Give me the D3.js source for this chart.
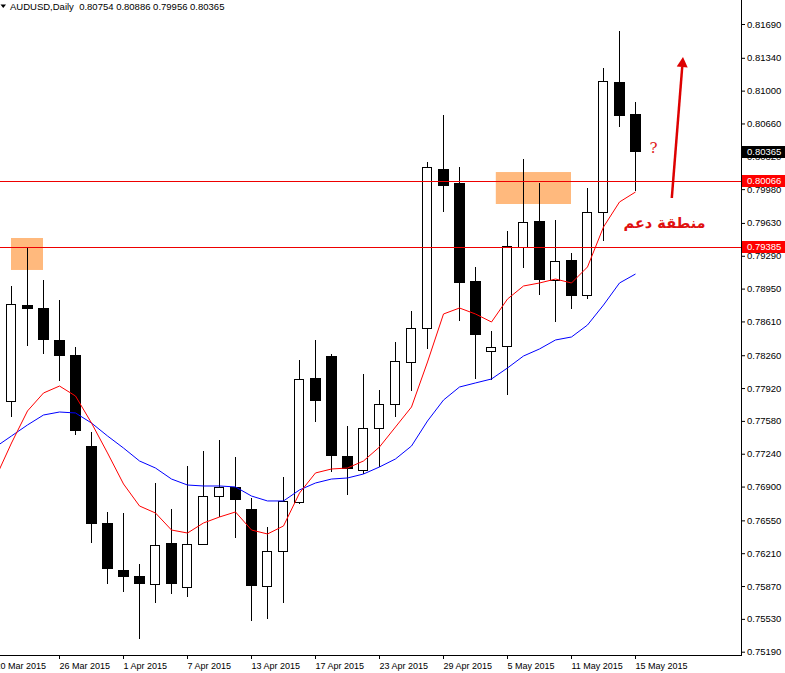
<!DOCTYPE html>
<html><head><meta charset="utf-8">
<script src="https://cdn.jsdelivr.net/npm/d3@7"></script>
<style>
html,body{margin:0;padding:0;background:#fff;}
svg{display:block;}
text{font-family:"Liberation Sans",Arial,sans-serif;}
</style></head><body>
<svg id="chart" width="785" height="673"></svg>
<script>
// ---------------- data ----------------
const symbolTitle = "AUDUSD,Daily";
const headerValues = [0.80754, 0.80886, 0.79956, 0.80365];

const dates = ["2015-03-20","2015-03-23","2015-03-24","2015-03-25","2015-03-26","2015-03-27","2015-03-30","2015-03-31",
"2015-04-01","2015-04-02","2015-04-03","2015-04-06","2015-04-07","2015-04-08","2015-04-09","2015-04-10","2015-04-13",
"2015-04-14","2015-04-15","2015-04-16","2015-04-17","2015-04-20","2015-04-21","2015-04-22","2015-04-23","2015-04-24",
"2015-04-27","2015-04-28","2015-04-29","2015-04-30","2015-05-01","2015-05-04","2015-05-05","2015-05-06","2015-05-07",
"2015-05-08","2015-05-11","2015-05-12","2015-05-13","2015-05-14","2015-05-15"];

const openP = [0.76430,0.77786,0.78780,0.78749,0.78418,0.78262,0.77320,0.76523,0.76036,0.75974,0.75891,0.76316,0.75860,
0.76305,0.76802,0.76896,0.76668,0.75870,0.76233,0.76740,0.78024,0.78252,0.77217,0.77072,0.77507,0.77755,0.78190,0.78542,
0.80189,0.80044,0.79029,0.78304,0.78356,0.79381,0.79650,0.79039,0.79246,0.78884,0.79743,0.81089,0.80754];
const highP = [0.77796,0.78977,0.79381,0.79039,0.78832,0.78345,0.77465,0.76637,0.76626,0.76098,0.76937,0.76668,0.77113,
0.77268,0.77382,0.77206,0.76782,0.76481,0.76999,0.78211,0.78418,0.78273,0.77527,0.78066,0.77900,0.78397,0.78718,0.80261,
0.80748,0.80209,0.79174,0.78511,0.79546,0.80292,0.80044,0.79660,0.79319,0.79992,0.81234,0.81617,0.80886];
const lowP = [0.76347,0.77620,0.78356,0.78273,0.77993,0.77434,0.76316,0.75891,0.75808,0.75322,0.75694,0.75788,0.75757,
0.76295,0.76585,0.76367,0.75508,0.75529,0.75694,0.76720,0.77569,0.77051,0.76813,0.77030,0.77103,0.77620,0.77890,0.78325,
0.79743,0.78615,0.78014,0.78004,0.77848,0.79163,0.78884,0.78604,0.78739,0.78842,0.79443,0.80623,0.79956];
const closeP = [0.77703,0.78791,0.78739,0.78418,0.78252,0.77475,0.76512,0.76046,0.75964,0.75891,0.76295,0.75891,0.76305,
0.76802,0.76896,0.76761,0.75870,0.76233,0.76751,0.78014,0.77786,0.77217,0.77082,0.77507,0.77755,0.78200,0.78542,0.80209,
0.80012,0.79008,0.78470,0.78345,0.79391,0.79640,0.79039,0.79236,0.78873,0.79743,0.81100,0.80737,0.80365];

// moving averages (red = fast, blue = slow)
const maFast = [0.76989,0.77351,0.77683,0.77869,0.77941,0.77838,0.77558,0.77248,0.76927,0.76699,0.76626,0.76450,0.76419,
0.76523,0.76585,0.76637,0.76450,0.76409,0.76492,0.76833,0.77041,0.77082,0.77092,0.77165,0.77310,0.77517,0.77724,0.78190,
0.78687,0.78749,0.78687,0.78604,0.78842,0.78977,0.79008,0.79049,0.79008,0.79174,0.79588,0.79847,0.79950];
const maSlow = [0.77310,0.77424,0.77538,0.77641,0.77672,0.77662,0.77558,0.77424,0.77299,0.77165,0.77092,0.76978,0.76916,
0.76906,0.76906,0.76896,0.76802,0.76751,0.76751,0.76865,0.76937,0.76978,0.76989,0.77030,0.77103,0.77186,0.77320,0.77579,
0.77796,0.77931,0.77973,0.78014,0.78128,0.78252,0.78325,0.78418,0.78449,0.78573,0.78780,0.79008,0.79101];

const priceTicks = [0.81690,0.81340,0.81000,0.80660,0.80320,0.79980,0.79630,0.79290,0.78950,0.78610,0.78260,0.77920,
0.77580,0.77240,0.76900,0.76550,0.76210,0.75870,0.75530,0.75190];
const dateTickIdx = [0,4,8,12,16,20,24,28,32,36,40];

const hLinePrices = [0.80066, 0.79385];
const zoneStartIdx = [1, 31.3];
const zoneEndIdx = [3, 36];
const zoneTopP = [0.79474, 0.80157];
const zoneBotP = [0.79143, 0.79826];

const arrowFrom = [42.3, 0.79888];
const arrowTo = [43.0, 0.81348];
const arabicLabel = "منطقة دعم";
const arabicPos = [41.85, 0.79575];
const questionPos = [41.16, 0.80354];

// ---------------- layout ----------------
const W = 785, H = 673;
const plotRight = 741, plotBottom = 655;
const svg = d3.select("#chart");

const x = d3.scaleLinear().domain([0, 40]).range([-5, 635]);
const y = d3.scaleLinear().domain([0.75190, 0.81690]).range([651.7, 24]);
const px = i => Math.round(x(i));
const py = p => Math.round(y(p));
const fmt = d3.format(".5f");
const parse = d3.timeParse("%Y-%m-%d");
const dfmt = d3.timeFormat("%-d %b %Y");

svg.append("rect").attr("width", W).attr("height", H).attr("fill", "#fff");

svg.append("defs").append("clipPath").attr("id", "plotclip")
  .append("rect").attr("x", 0).attr("y", 0).attr("width", plotRight).attr("height", plotBottom);

const plot = svg.append("g").attr("clip-path", "url(#plotclip)");

// zones (background)
plot.selectAll("rect.zone").data(zoneStartIdx).enter().append("rect")
  .attr("class", "zone")
  .attr("x", (d, i) => x(d))
  .attr("y", (d, i) => y(zoneTopP[i]))
  .attr("width", (d, i) => x(zoneEndIdx[i]) - x(d))
  .attr("height", (d, i) => y(zoneBotP[i]) - y(zoneTopP[i]))
  .attr("fill", "#ffb97d");

// candles
const bars = d3.range(dates.length);
const cg = plot.append("g");
cg.selectAll("line.wick").data(bars).enter().append("line")
  .attr("x1", i => px(i) + 0.5).attr("x2", i => px(i) + 0.5)
  .attr("y1", i => py(highP[i])).attr("y2", i => py(lowP[i]))
  .attr("stroke", "#000").attr("stroke-width", 1);

cg.selectAll("rect.body").data(bars).enter().append("rect")
  .attr("x", i => closeP[i] >= openP[i] ? px(i) - 4.5 : px(i) - 5)
  .attr("y", i => closeP[i] >= openP[i] ? py(closeP[i]) + 0.5 : py(openP[i]))
  .attr("width", i => closeP[i] >= openP[i] ? 9 : 11)
  .attr("height", i => closeP[i] >= openP[i]
      ? Math.max(1, py(openP[i]) - py(closeP[i]))
      : Math.max(1, py(closeP[i]) - py(openP[i])))
  .attr("fill", i => closeP[i] >= openP[i] ? "#fff" : "#000")
  .attr("stroke", i => closeP[i] >= openP[i] ? "#000" : "none")
  .attr("stroke-width", 1);

// horizontal lines
plot.selectAll("line.hl").data(hLinePrices).enter().append("line")
  .attr("x1", 0).attr("x2", plotRight)
  .attr("y1", d => py(d) + 0.5).attr("y2", d => py(d) + 0.5)
  .attr("stroke", "#ee0000").attr("stroke-width", 1);

// moving averages
const lineGen = arr => d3.line().x((d, i) => px(i) + 0.5).y(d => y(d))(arr);
plot.append("path").attr("d", lineGen(maSlow)).attr("fill", "none").attr("stroke", "#0000ff").attr("stroke-width", 1);
plot.append("path").attr("d", lineGen(maFast)).attr("fill", "none").attr("stroke", "#ff0000").attr("stroke-width", 1);

// arrow
{
  const x0 = x(arrowFrom[0]), y0 = y(arrowFrom[1]);
  const x1 = x(arrowTo[0]), y1 = y(arrowTo[1]);
  const dx = x1 - x0, dy = y1 - y0, len = Math.hypot(dx, dy);
  const ux = dx / len, uy = dy / len;
  const hl = 10, hw = 5.5;
  const bx = x1 - ux * hl, by = y1 - uy * hl;
  plot.append("line").attr("x1", x0).attr("y1", y0).attr("x2", bx).attr("y2", by)
    .attr("stroke", "#dd0000").attr("stroke-width", 2.5);
  plot.append("path")
    .attr("d", `M${x1},${y1}L${bx - uy * hw},${by + ux * hw}L${bx + uy * hw},${by - ux * hw}Z`)
    .attr("fill", "#dd0000");
}

// annotation texts
plot.append("text").attr("x", x(questionPos[0])).attr("y", y(questionPos[1]))
  .attr("text-anchor", "middle").attr("fill", "#e01818")
  .style("font-family", "'DejaVu Serif', serif").style("font-size", "15px")
  .text("?");
plot.append("text").attr("x", x(arabicPos[0])).attr("y", y(arabicPos[1]))
  .attr("text-anchor", "middle").attr("fill", "#e01010")
  .style("font-family", "'DejaVu Sans', sans-serif").style("font-weight", "bold").style("font-size", "14.5px")
  .text(arabicLabel);

// frame
svg.append("line").attr("x1", plotRight + 0.5).attr("x2", plotRight + 0.5).attr("y1", 0).attr("y2", plotBottom + 1)
  .attr("stroke", "#000");
svg.append("line").attr("x1", 0).attr("x2", plotRight + 1).attr("y1", plotBottom + 0.5).attr("y2", plotBottom + 0.5)
  .attr("stroke", "#000");

// right price axis
const yAxis = d3.axisRight(y).tickValues(priceTicks).tickFormat(fmt).tickSize(3).tickPadding(2);
const ya = svg.append("g").attr("transform", `translate(${plotRight + 1},0)`).call(yAxis);
ya.select(".domain").remove();
ya.selectAll(".tick line").attr("stroke", "#000");
ya.selectAll(".tick text").attr("fill", "#000").style("font-size", "9.5px").style("font-family", "'Liberation Sans',Arial,sans-serif");

// bottom date axis
const xAxis = d3.axisBottom(x).tickValues(dateTickIdx).tickFormat(i => dfmt(parse(dates[i]))).tickSize(4).tickPadding(3);
const xa = svg.append("g").attr("transform", `translate(0.5,${plotBottom})`).call(xAxis);
xa.select(".domain").remove();
xa.selectAll(".tick").attr("transform", d => `translate(${px(d)},0)`);
xa.selectAll(".tick line").attr("stroke", "#000");
xa.selectAll(".tick text").attr("fill", "#000").attr("text-anchor", "start").attr("x", 0).attr("y", 14).attr("dy", 0)
  .style("font-size", "9px").style("font-family", "'Liberation Sans',Arial,sans-serif");

// highlighted price labels
const tagData = [
  {p: hLinePrices[0], bg: "#ff0000"},
  {p: hLinePrices[1], bg: "#ff0000"},
  {p: closeP[closeP.length - 1], bg: "#000000"}
];
const tags = svg.append("g");
tags.selectAll("rect").data(tagData).enter().append("rect")
  .attr("x", plotRight + 1).attr("y", d => py(d.p) - 6).attr("width", W - plotRight - 1).attr("height", 12)
  .attr("fill", d => d.bg);
tags.selectAll("text").data(tagData).enter().append("text")
  .attr("x", plotRight + 6).attr("y", d => py(d.p)).attr("dy", "0.35em")
  .attr("fill", "#fff").style("font-size", "9.5px").text(d => fmt(d.p));

// header
svg.append("path").attr("d", "M0.5,4.5L6,4.5L3.25,8Z").attr("fill", "#000");
svg.append("text").attr("x", 10).attr("y", 10).attr("fill", "#000").style("font-size", "9.5px")
  .attr("xml:space", "preserve")
  .text(symbolTitle + "  " + headerValues.map(fmt).join(" "));
</script>
</body></html>
